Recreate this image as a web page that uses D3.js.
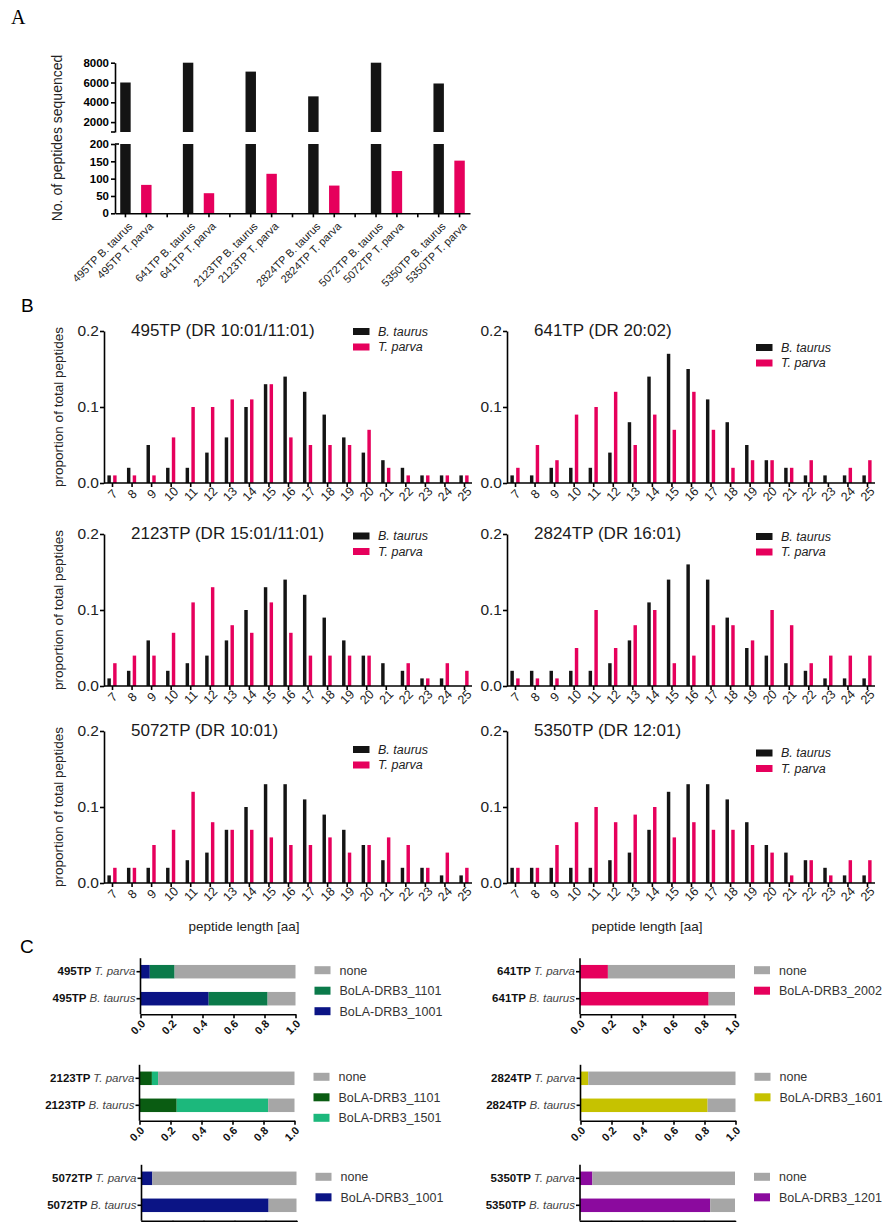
<!DOCTYPE html>
<html>
<head>
<meta charset="utf-8">
<script src="https://cdn.jsdelivr.net/npm/d3@7"></script>
<style>
  body { margin: 0; background: #fff; }
  svg { font-family: "Liberation Sans", Arial, sans-serif; }
  .axis .domain, .axis .tick line { stroke: #000; stroke-width: 1.6; }
</style>
</head>
<body>
<svg id="fig" width="884" height="1222"></svg>
<script>
// ---------- data ----------
const samples = ["495TP", "641TP", "2123TP", "2824TP", "5072TP", "5350TP"];
const species = ["B. taurus", "T. parva"];

// panel A: number of peptides sequenced
const peptidesTaurus = [6000, 8000, 7100, 4600, 8000, 5900];
const peptidesParva = [82, 58, 114, 80, 122, 152];
const upperTicks = [2000, 4000, 6000, 8000];
const lowerTicks = [0, 50, 100, 150, 200];

// panel B: length distributions
const lengths = [7, 8, 9, 10, 11, 12, 13, 14, 15, 16, 17, 18, 19, 20, 21, 22, 23, 24, 25];
const titlesB = ["495TP (DR 10:01/11:01)", "641TP (DR 20:02)", "2123TP (DR 15:01/11:01)",
                 "2824TP (DR 16:01)", "5072TP (DR 10:01)", "5350TP (DR 12:01)"];
const taurus495 = [0.01, 0.02, 0.05, 0.02, 0.02, 0.04, 0.06, 0.10, 0.13, 0.14, 0.12, 0.09, 0.06, 0.04, 0.03, 0.02, 0.01, 0.01, 0.01];
const parva495  = [0.01, 0.01, 0.01, 0.06, 0.10, 0.10, 0.11, 0.11, 0.13, 0.06, 0.05, 0.05, 0.05, 0.07, 0.02, 0.01, 0.01, 0.01, 0.01];
const taurus641 = [0.01, 0.01, 0.02, 0.02, 0.02, 0.04, 0.08, 0.14, 0.17, 0.15, 0.11, 0.08, 0.05, 0.03, 0.02, 0.01, 0.01, 0.01, 0.01];
const parva641  = [0.02, 0.05, 0.03, 0.09, 0.10, 0.12, 0.05, 0.09, 0.07, 0.12, 0.07, 0.02, 0.03, 0.03, 0.02, 0.03, 0.00, 0.02, 0.03];
const taurus2123 = [0.01, 0.02, 0.06, 0.02, 0.03, 0.04, 0.06, 0.10, 0.13, 0.14, 0.12, 0.09, 0.06, 0.04, 0.03, 0.02, 0.01, 0.01, 0.00];
const parva2123  = [0.03, 0.04, 0.04, 0.07, 0.11, 0.13, 0.08, 0.07, 0.11, 0.07, 0.04, 0.04, 0.04, 0.04, 0.00, 0.03, 0.01, 0.03, 0.02];
const taurus2824 = [0.02, 0.02, 0.02, 0.02, 0.02, 0.03, 0.06, 0.11, 0.14, 0.16, 0.14, 0.09, 0.05, 0.04, 0.03, 0.02, 0.01, 0.01, 0.01];
const parva2824  = [0.01, 0.01, 0.01, 0.05, 0.10, 0.05, 0.08, 0.10, 0.03, 0.04, 0.08, 0.08, 0.06, 0.10, 0.08, 0.03, 0.04, 0.04, 0.04];
const taurus5072 = [0.01, 0.02, 0.02, 0.02, 0.03, 0.04, 0.07, 0.10, 0.13, 0.13, 0.11, 0.09, 0.07, 0.05, 0.03, 0.02, 0.02, 0.01, 0.01];
const parva5072  = [0.02, 0.02, 0.05, 0.07, 0.12, 0.08, 0.07, 0.07, 0.06, 0.05, 0.05, 0.06, 0.04, 0.05, 0.06, 0.05, 0.02, 0.04, 0.02];
const taurus5350 = [0.02, 0.02, 0.02, 0.02, 0.02, 0.03, 0.04, 0.07, 0.12, 0.13, 0.13, 0.11, 0.08, 0.05, 0.04, 0.03, 0.02, 0.01, 0.01];
const parva5350  = [0.02, 0.02, 0.05, 0.08, 0.10, 0.08, 0.09, 0.10, 0.06, 0.08, 0.07, 0.07, 0.05, 0.04, 0.01, 0.03, 0.01, 0.03, 0.03];
const yTicksB = [0, 0.1, 0.2];

// panel C: predicted binders (fractions, stacked left to right)
const alleles495 = ["BoLA-DRB3_1001", "BoLA-DRB3_1101", "none"];
const legend495 = ["none", "BoLA-DRB3_1101", "BoLA-DRB3_1001"];
const bind495Parva = [0.06, 0.16, 0.78];
const bind495Taurus = [0.44, 0.38, 0.18];
const alleles641 = ["BoLA-DRB3_2002", "none"];
const legend641 = ["none", "BoLA-DRB3_2002"];
const bind641Parva = [0.18, 0.82];
const bind641Taurus = [0.83, 0.17];
const alleles2123 = ["BoLA-DRB3_1101", "BoLA-DRB3_1501", "none"];
const legend2123 = ["none", "BoLA-DRB3_1101", "BoLA-DRB3_1501"];
const bind2123Parva = [0.08, 0.04, 0.88];
const bind2123Taurus = [0.24, 0.59, 0.17];
const alleles2824 = ["BoLA-DRB3_1601", "none"];
const legend2824 = ["none", "BoLA-DRB3_1601"];
const bind2824Parva = [0.05, 0.95];
const bind2824Taurus = [0.82, 0.18];
const alleles5072 = ["BoLA-DRB3_1001", "none"];
const legend5072 = ["none", "BoLA-DRB3_1001"];
const bind5072Parva = [0.07, 0.93];
const bind5072Taurus = [0.82, 0.18];
const alleles5350 = ["BoLA-DRB3_1201", "none"];
const legend5350 = ["none", "BoLA-DRB3_1201"];
const bind5350Parva = [0.08, 0.92];
const bind5350Taurus = [0.84, 0.16];
const xTicksC = [0, 0.2, 0.4, 0.6, 0.8, 1.0];

// ---------- drawing ----------
const BLACK = "#141414", PINK = "#e6005c", GREY = "#a6a6a6";
const svg = d3.select("#fig");

svg.append("text").attr("x", 11).attr("y", 24)
  .attr("font-family", "'Liberation Serif', 'Times New Roman', serif")
  .attr("font-size", 20).text("A");
svg.append("text").attr("x", 21).attr("y", 312).attr("font-size", 19).text("B");
svg.append("text").attr("x", 20).attr("y", 953).attr("font-size", 19).text("C");

// ----- Panel A -----
const cols = [];
samples.forEach((s, i) => {
  cols.push(s + " B. taurus", s + " T. parva");
  if (i < samples.length - 1) cols.push("gap" + i);
});
const xA = d3.scaleBand().domain(cols).range([115, 470]).paddingInner(0.5).paddingOuter(0.25);
const yUp = d3.scaleLinear().domain([1000, 8000]).range([132, 62.7]);
const yLo = d3.scaleLinear().domain([0, 200]).range([213.3, 144]);
const gA = svg.append("g");

samples.forEach((s, i) => {
  const bx = xA(s + " B. taurus"), tx = xA(s + " T. parva");
  gA.append("rect").attr("x", bx).attr("width", xA.bandwidth())
    .attr("y", yUp(peptidesTaurus[i])).attr("height", yUp(1000) - yUp(peptidesTaurus[i]))
    .attr("fill", BLACK);
  gA.append("rect").attr("x", bx).attr("width", xA.bandwidth())
    .attr("y", yLo(200)).attr("height", yLo(0) - yLo(200)).attr("fill", BLACK);
  gA.append("rect").attr("x", tx).attr("width", xA.bandwidth())
    .attr("y", yLo(peptidesParva[i])).attr("height", yLo(0) - yLo(peptidesParva[i]))
    .attr("fill", PINK);
});

const upAxis = gA.append("g").attr("class", "axis").attr("transform", "translate(115,0)")
  .call(d3.axisLeft(yUp).tickValues(upperTicks).tickFormat(d3.format("d"))
    .tickSize(4).tickSizeOuter(0).tickPadding(2));
const loAxis = gA.append("g").attr("class", "axis").attr("transform", "translate(115,0)")
  .call(d3.axisLeft(yLo).tickValues(lowerTicks).tickFormat(d3.format("d"))
    .tickSize(4).tickSizeOuter(0).tickPadding(2));
[upAxis, loAxis].forEach(ax => ax.selectAll("text")
  .attr("font-size", 11.5).attr("font-weight", "bold").attr("fill", "#000"));
// axis break marks
gA.append("line").attr("x1", 111).attr("x2", 115).attr("y1", 132).attr("y2", 132)
  .attr("stroke", "#000").attr("stroke-width", 1.6);
gA.append("line").attr("x1", 115).attr("x2", 119).attr("y1", 144).attr("y2", 144)
  .attr("stroke", "#000").attr("stroke-width", 1.6);

const xAxisA = gA.append("g").attr("class", "axis").attr("transform", "translate(0,213.3)")
  .call(d3.axisBottom(xA).tickSize(4).tickSizeOuter(0)
    .tickFormat(d => d.startsWith("gap") ? "" : d));
xAxisA.selectAll(".tick text")
  .attr("x", 0).attr("y", 0).attr("dy", "0.35em")
  .attr("transform", "translate(5,11) rotate(-45)")
  .style("text-anchor", "end").attr("font-size", 11).attr("fill", "#222");

gA.append("text")
  .attr("transform", "translate(62,138) rotate(-90)")
  .attr("text-anchor", "middle").attr("font-size", 14).attr("fill", "#222")
  .text("No. of peptides sequenced");

// ----- Panel B -----
const panelsB = [
  { title: titlesB[0], taurus: taurus495, parva: parva495 },
  { title: titlesB[1], taurus: taurus641, parva: parva641 },
  { title: titlesB[2], taurus: taurus2123, parva: parva2123 },
  { title: titlesB[3], taurus: taurus2824, parva: parva2824 },
  { title: titlesB[4], taurus: taurus5072, parva: parva5072 },
  { title: titlesB[5], taurus: taurus5350, parva: parva5350 }
];
const layoutB = [
  { x0: 104, bottom: 483, legDy: -3 },
  { x0: 507, bottom: 483, legDy: 13 },
  { x0: 104, bottom: 686, legDy: -1.5 },
  { x0: 507, bottom: 686, legDy: -1 },
  { x0: 104, bottom: 883, legDy: 15 },
  { x0: 507, bottom: 883, legDy: 18.5 }
];
const speciesColor = d3.scaleOrdinal().domain(species).range([BLACK, PINK]);
const inner = d3.scaleBand().domain(species).range([-4.6, 4.6]).paddingInner(0.4);

panelsB.forEach((p, k) => {
  const L = layoutB[k];
  const top = L.bottom - 152;
  const g = svg.append("g");
  const x = d3.scalePoint().domain(lengths).range([L.x0 + 8, L.x0 + 360]);
  const y = d3.scaleLinear().domain([0, 0.2]).range([L.bottom, top]);

  [p.taurus, p.parva].forEach((vals, j) => {
    g.append("g").selectAll("rect").data(vals).join("rect")
      .attr("x", (d, i) => x(lengths[i]) + inner(species[j]))
      .attr("width", inner.bandwidth())
      .attr("y", d => y(d))
      .attr("height", d => y(0) - y(d))
      .attr("fill", speciesColor(species[j]));
  });

  const yAx = g.append("g").attr("class", "axis").attr("transform", `translate(${L.x0},0)`)
    .call(d3.axisLeft(y).tickValues(yTicksB).tickFormat(d3.format(".1f"))
      .tickSize(4).tickSizeOuter(0).tickPadding(1));
  yAx.selectAll("text").attr("font-size", 15.5).attr("fill", "#222");

  const xAx = g.append("g").attr("class", "axis").attr("transform", `translate(0,${L.bottom})`)
    .call(d3.axisBottom(x).tickSize(4).tickSizeOuter(0));
  xAx.select(".domain").attr("d", `M${L.x0},0H${L.x0 + 368}`);
  xAx.selectAll(".tick text")
    .attr("x", 0).attr("y", 0).attr("dy", "0.35em")
    .attr("transform", "translate(0,11) rotate(-45)")
    .style("text-anchor", "middle").attr("font-size", 12.5).attr("fill", "#222");

  g.append("text").attr("x", L.x0 + 27).attr("y", top + 5)
    .attr("font-size", 17).attr("fill", "#1a1a1a").text(p.title);

  species.forEach((sp, j) => {
    const ly = top + L.legDy + j * 15.5;
    g.append("rect").attr("x", L.x0 + 249).attr("y", ly).attr("width", 16.5).attr("height", 7)
      .attr("fill", speciesColor(sp));
    g.append("text").attr("x", L.x0 + 274).attr("y", ly + 7.5)
      .attr("font-size", 12.5).attr("font-style", "italic").attr("fill", "#222").text(sp);
  });

  if (L.x0 < 300) {
    g.append("text")
      .attr("transform", `translate(63,${(top + L.bottom) / 2}) rotate(-90)`)
      .attr("text-anchor", "middle").attr("font-size", 13.5).attr("fill", "#222")
      .text("proportion of total peptides");
  }
  if (k >= 4) {
    g.append("text").attr("x", L.x0 + 140).attr("y", 931)
      .attr("text-anchor", "middle").attr("font-size", 13.5).attr("fill", "#222")
      .text("peptide length [aa]");
  }
});

// ----- Panel C -----
const panelsC = [
  { sample: samples[0], alleles: alleles495, legend: legend495, parva: bind495Parva, taurus: bind495Taurus },
  { sample: samples[2], alleles: alleles2123, legend: legend2123, parva: bind2123Parva, taurus: bind2123Taurus },
  { sample: samples[4], alleles: alleles5072, legend: legend5072, parva: bind5072Parva, taurus: bind5072Taurus },
  { sample: samples[1], alleles: alleles641, legend: legend641, parva: bind641Parva, taurus: bind641Taurus },
  { sample: samples[3], alleles: alleles2824, legend: legend2824, parva: bind2824Parva, taurus: bind2824Taurus },
  { sample: samples[5], alleles: alleles5350, legend: legend5350, parva: bind5350Parva, taurus: bind5350Taurus }
];
// the last row of panel C runs off the bottom of the figure: its tick labels are not shown
const layoutC = [
  { x0: 140.5, top: 958.2, colors: ["#0b1485", "#0b7a4a", GREY], labels: true },
  { x0: 139.5, top: 1064.8, colors: ["#0a5c12", "#1cb87c", GREY], labels: true },
  { x0: 141.5, top: 1164.8, colors: ["#0b1485", GREY], labels: false },
  { x0: 580, top: 958.2, colors: [PINK, GREY], labels: true },
  { x0: 580.5, top: 1064.8, colors: ["#c6c200", GREY], labels: true },
  { x0: 580, top: 1164.8, colors: ["#8b0a9e", GREY], labels: false }
];
const rowsC = ["T. parva", "B. taurus"];

panelsC.forEach((p, k) => {
  const L = layoutC[k];
  const g = svg.append("g");
  const x = d3.scaleLinear().domain([0, 1]).range([L.x0, L.x0 + 155]);
  const y = d3.scaleBand().domain(rowsC).range([L.top, L.top + 54])
    .paddingInner(0.5).paddingOuter(0.25);
  const color = d3.scaleOrdinal().domain(p.alleles).range(L.colors);

  const rows = [
    { row: "T. parva", vals: p.parva },
    { row: "B. taurus", vals: p.taurus }
  ];
  rows.forEach(r => {
    const ends = Array.from(d3.cumsum(r.vals));
    g.append("g").selectAll("rect").data(r.vals).join("rect")
      .attr("x", (d, i) => x(ends[i] - d))
      .attr("width", d => x(d) - x(0))
      .attr("y", y(r.row))
      .attr("height", y.bandwidth())
      .attr("fill", (d, i) => color(p.alleles[i]));
  });

  const yAx = g.append("g").attr("class", "axis").attr("transform", `translate(${L.x0},0)`)
    .call(d3.axisLeft(y).tickSize(4).tickSizeOuter(0).tickPadding(1));
  yAx.select(".domain").attr("d", `M0,${L.top}V${L.top + 56}`);
  yAx.selectAll(".tick text").each(function (d) {
    const t = d3.select(this).text(null).attr("font-size", 11.5).attr("fill", "#111");
    t.append("tspan").attr("font-weight", "bold").text(p.sample + " ");
    t.append("tspan").attr("font-style", "italic").attr("fill", "#444").text(d);
  });

  const xAx = g.append("g").attr("class", "axis").attr("transform", `translate(0,${L.top + 56})`)
    .call(d3.axisBottom(x).tickValues(xTicksC)
      .tickFormat(L.labels ? d3.format(".1f") : () => "")
      .tickSize(4).tickSizeOuter(0));
  xAx.selectAll(".tick text")
    .attr("x", 0).attr("y", 0).attr("dy", "0.35em")
    .attr("transform", "translate(-3,13) rotate(-45)")
    .style("text-anchor", "middle").attr("font-size", 11).attr("font-weight", "bold")
    .attr("fill", "#111");

  p.legend.forEach((a, i) => {
    const ly = L.top + 12 + i * 20.5;
    g.append("rect").attr("x", L.x0 + 174).attr("y", ly - 4).attr("width", 16).attr("height", 8)
      .attr("fill", color(a));
    g.append("text").attr("x", L.x0 + 199).attr("y", ly + 4.5)
      .attr("font-size", 12.5).attr("fill", "#333").text(a);
  });
});
</script>
</body>
</html>
